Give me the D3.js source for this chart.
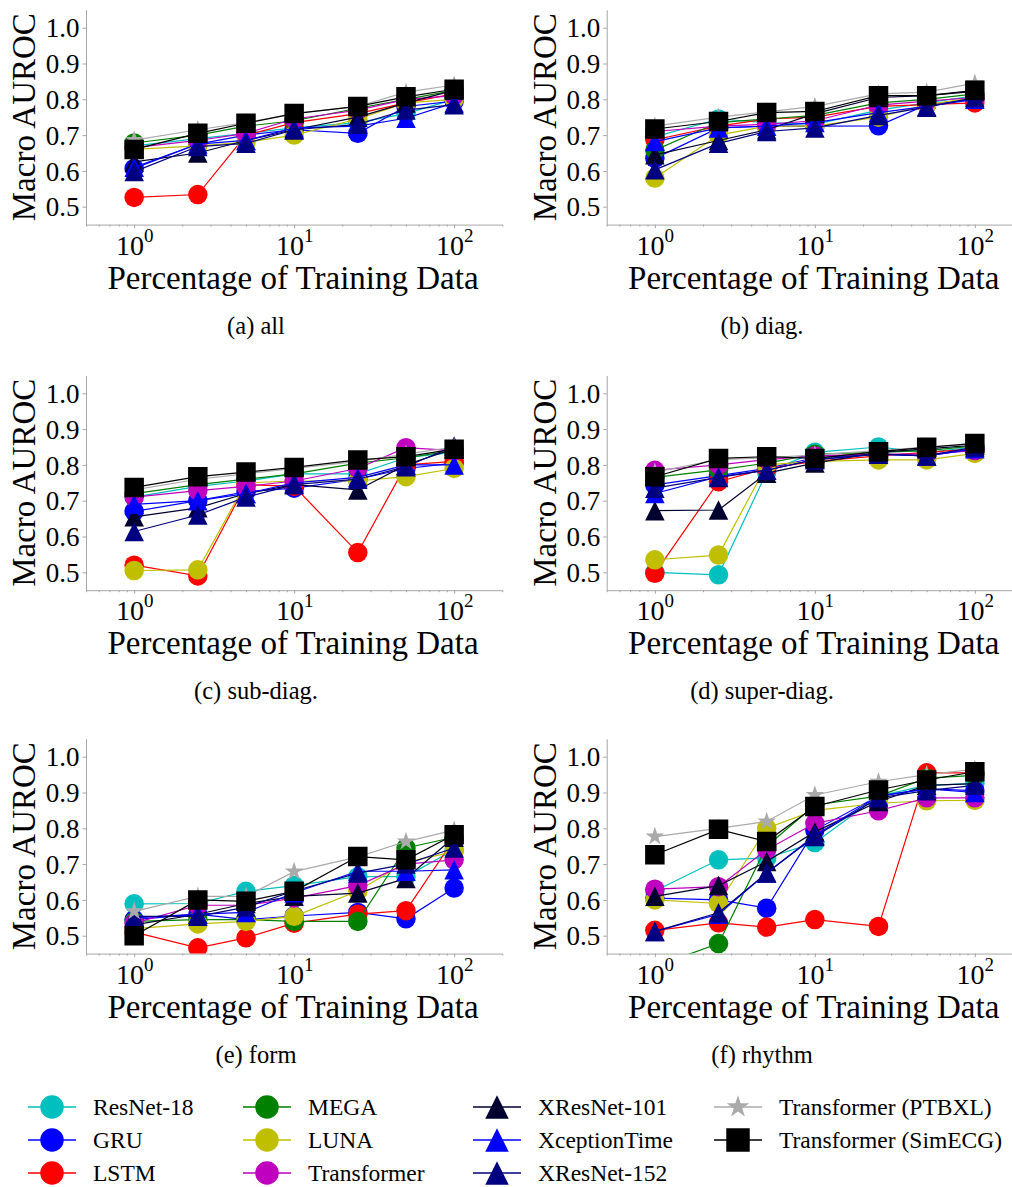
<!DOCTYPE html>
<html>
<head>
<meta charset="utf-8">
<script src="https://cdn.jsdelivr.net/npm/d3@7"></script>
<style>
  body { margin: 0; background: #fff; }
  svg { display: block; font-family: "Liberation Serif", "DejaVu Serif", serif; }
</style>
</head>
<body>
<div id="chart"></div>
<script>
// x values (percentage of training data)
const percentages = [1, 2.5, 5, 10, 25, 50, 100];

const models = ["ResNet-18", "GRU", "LSTM", "MEGA", "LUNA", "Transformer",
  "XResNet-101", "XceptionTime", "XResNet-152", "Transformer (PTBXL)", "Transformer (SimECG)"];

const yTicks = [0.5, 0.6, 0.7, 0.8, 0.9, 1.0];
const xMajorTicks = [1, 10, 100];

const subCaptions = ["(a) all", "(b) diag.", "(c) sub-diag.", "(d) super-diag.", "(e) form", "(f) rhythm"];

// rows follow the order of `models`
const scoresAll = [
  [0.670, 0.690, 0.705, 0.720, 0.735, 0.760, 0.800],
  [0.607, 0.675, 0.700, 0.715, 0.705, 0.780, 0.795],
  [0.526, 0.534, 0.700, 0.735, 0.760, 0.790, 0.815],
  [0.678, 0.700, 0.725, 0.740, 0.775, 0.800, 0.825],
  [0.660, 0.670, 0.680, 0.700, 0.745, 0.790, 0.800],
  [0.665, 0.685, 0.705, 0.745, 0.770, 0.800, 0.810],
  [0.625, 0.650, 0.685, 0.715, 0.750, 0.790, 0.825],
  [0.610, 0.675, 0.685, 0.720, 0.725, 0.747, 0.790],
  [0.598, 0.668, 0.677, 0.715, 0.730, 0.770, 0.785],
  [0.686, 0.715, 0.735, 0.760, 0.780, 0.820, 0.840],
  [0.660, 0.705, 0.733, 0.760, 0.780, 0.807, 0.828]
];

const scoresDiag = [
  [0.695, 0.745, 0.735, 0.730, 0.770, 0.790, 0.810],
  [0.635, 0.720, 0.725, 0.725, 0.726, 0.785, 0.800],
  [0.687, 0.725, 0.745, 0.750, 0.780, 0.785, 0.790],
  [0.658, 0.735, 0.745, 0.755, 0.790, 0.800, 0.815],
  [0.580, 0.700, 0.725, 0.725, 0.750, 0.785, 0.805],
  [0.710, 0.725, 0.730, 0.740, 0.784, 0.795, 0.805],
  [0.645, 0.685, 0.715, 0.760, 0.805, 0.810, 0.822],
  [0.682, 0.720, 0.725, 0.735, 0.763, 0.780, 0.800],
  [0.603, 0.677, 0.710, 0.720, 0.755, 0.778, 0.805],
  [0.725, 0.750, 0.765, 0.780, 0.815, 0.820, 0.845],
  [0.717, 0.738, 0.763, 0.766, 0.810, 0.810, 0.825]
];

const scoresSubDiag = [
  [0.710, 0.740, 0.755, 0.775, 0.775, 0.820, 0.835],
  [0.670, 0.700, 0.725, 0.735, 0.760, 0.790, 0.805],
  [0.520, 0.490, 0.745, 0.740, 0.555, 0.800, 0.810],
  [0.720, 0.745, 0.760, 0.775, 0.805, 0.820, 0.840],
  [0.505, 0.507, 0.750, 0.755, 0.755, 0.767, 0.790],
  [0.710, 0.728, 0.740, 0.755, 0.790, 0.848, 0.840],
  [0.655, 0.680, 0.720, 0.745, 0.730, 0.800, 0.845],
  [0.690, 0.700, 0.720, 0.750, 0.765, 0.800, 0.800],
  [0.614, 0.660, 0.710, 0.745, 0.760, 0.795, 0.853],
  [0.730, 0.760, 0.775, 0.790, 0.810, 0.830, 0.850],
  [0.737, 0.767, 0.780, 0.793, 0.814, 0.823, 0.844]
];

const scoresSuperDiag = [
  [0.500, 0.493, 0.780, 0.835, 0.850, 0.835, 0.850],
  [0.744, 0.770, 0.790, 0.820, 0.830, 0.825, 0.845],
  [0.497, 0.753, 0.790, 0.810, 0.825, 0.835, 0.845],
  [0.765, 0.786, 0.805, 0.830, 0.835, 0.840, 0.853],
  [0.535, 0.548, 0.800, 0.810, 0.814, 0.814, 0.832],
  [0.785, 0.800, 0.815, 0.825, 0.830, 0.830, 0.840],
  [0.672, 0.674, 0.777, 0.805, 0.835, 0.845, 0.855],
  [0.720, 0.767, 0.785, 0.815, 0.830, 0.825, 0.845],
  [0.735, 0.765, 0.785, 0.815, 0.830, 0.825, 0.850],
  [0.780, 0.815, 0.820, 0.828, 0.840, 0.850, 0.857],
  [0.767, 0.818, 0.823, 0.818, 0.837, 0.849, 0.860]
];

const scoresForm = [
  [0.589, 0.590, 0.624, 0.640, 0.665, 0.665, 0.740],
  [0.545, 0.560, 0.545, 0.555, 0.565, 0.547, 0.633],
  [0.510, 0.466, 0.494, 0.535, 0.560, 0.570, 0.770],
  [0.540, 0.545, 0.545, 0.540, 0.540, 0.745, 0.775],
  [0.520, 0.533, 0.540, 0.554, 0.625, 0.705, 0.735],
  [0.535, 0.585, 0.585, 0.605, 0.640, 0.700, 0.712],
  [0.530, 0.560, 0.590, 0.610, 0.619, 0.660, 0.775],
  [0.550, 0.560, 0.565, 0.620, 0.680, 0.680, 0.684],
  [0.554, 0.554, 0.580, 0.625, 0.675, 0.700, 0.745],
  [0.568, 0.610, 0.610, 0.679, 0.720, 0.763, 0.795],
  [0.500, 0.600, 0.596, 0.624, 0.721, 0.712, 0.782]
];

const scoresRhythm = [
  [0.625, 0.712, 0.717, 0.760, 0.890, 0.920, 0.925],
  [0.605, 0.600, 0.577, 0.795, 0.890, 0.910, 0.905],
  [0.515, 0.536, 0.524, 0.545, 0.526, 0.955, 0.955],
  [0.414, 0.478, 0.750, 0.865, 0.890, 0.940, 0.948],
  [0.600, 0.590, 0.800, 0.850, 0.870, 0.877, 0.878],
  [0.630, 0.637, 0.740, 0.814, 0.849, 0.885, 0.885],
  [0.610, 0.640, 0.707, 0.790, 0.875, 0.920, 0.925],
  [0.512, 0.560, 0.675, 0.780, 0.890, 0.910, 0.900],
  [0.512, 0.564, 0.675, 0.777, 0.885, 0.905, 0.920],
  [0.777, 0.800, 0.819, 0.893, 0.930, 0.950, 0.965],
  [0.726, 0.797, 0.763, 0.861, 0.907, 0.935, 0.958]
];

const panels = [scoresAll, scoresDiag, scoresSubDiag, scoresSuperDiag, scoresForm, scoresRhythm];

// styles
const colors = ["#00bfbf", "#0000ff", "#ff0000", "#008000", "#bfbf00", "#bf00bf",
  "#00002e", "#0000ff", "#000080", "#aaaaaa", "#000000"];
const shapes = ["circle", "circle", "circle", "circle", "circle", "circle",
  "triangle", "triangle", "triangle", "star", "square"];

const W = 1012, H = 1187;
const colX = [86, 606.7];
const rowY = [9.8, 375.4, 738.8];
const plotW = 416.3, plotH = 214.8;
const spineColor = "#a6a6a6";

// matplotlib-like marker shapes, size = (marker width)^2
const mplTriangle = {
  draw(ctx, size) {
    const h = Math.sqrt(size) / 2;
    ctx.moveTo(0, -h); ctx.lineTo(h, h); ctx.lineTo(-h, h); ctx.closePath();
  }
};
function markerPath(shape, ms) {
  if (shape === "circle") return d3.symbol(d3.symbolCircle, Math.PI * ms * ms / 4)();
  if (shape === "square") return d3.symbol(d3.symbolSquare, ms * ms)();
  if (shape === "star") return d3.symbol(d3.symbolStar, (ms * ms / 4) / 0.8908130915292852)();
  return d3.symbol(mplTriangle, ms * ms)();
}

const svg = d3.select("#chart").append("svg")
  .attr("width", W).attr("height", H)
  .attr("viewBox", `0 0 ${W} ${H}`);

const x = d3.scaleLog().domain([0.5, 200]).range([0, plotW]);
const y = d3.scaleLinear().domain([0.45, 1.05]).range([plotH, 0]);

const line = d3.line()
  .x((d, i) => x(percentages[i]))
  .y(d => y(d));

panels.forEach((scores, p) => {
  const col = p % 2, row = Math.floor(p / 2);
  const g = svg.append("g").attr("transform", `translate(${colX[col]},${rowY[row]})`);

  g.append("clipPath").attr("id", "clip" + p)
    .append("rect").attr("width", plotW).attr("height", plotH);

  // minor x ticks
  const minor = x.ticks().filter(v => !xMajorTicks.includes(v));
  g.append("g").attr("transform", `translate(0,${plotH})`)
    .call(d3.axisBottom(x).tickValues(minor).tickSize(2).tickSizeOuter(0).tickFormat(""))
    .call(a => a.select(".domain").remove())
    .call(a => a.selectAll("line").attr("stroke", spineColor));

  // major x ticks
  const xAxis = g.append("g").attr("transform", `translate(0,${plotH})`)
    .call(d3.axisBottom(x).tickValues(xMajorTicks).tickSize(3.5).tickSizeOuter(0));
  xAxis.select(".domain").attr("stroke", spineColor);
  xAxis.selectAll("line").attr("stroke", spineColor);
  xAxis.selectAll(".tick text").each(function(d) {
    const t = d3.select(this);
    t.text("10").attr("y", 30).attr("dy", null)
      .attr("font-size", 28).attr("fill", "#000")
      .attr("font-family", "Liberation Serif, serif");
    t.append("tspan").attr("dy", -13).attr("font-size", 19)
      .text(Math.round(Math.log10(d)));
  });

  // y axis
  const yAxis = g.append("g")
    .call(d3.axisLeft(y).tickValues(yTicks).tickSize(3.5).tickSizeOuter(0)
      .tickPadding(3).tickFormat(d3.format(".1f")));
  yAxis.select(".domain").attr("stroke", spineColor);
  yAxis.selectAll("line").attr("stroke", spineColor);
  yAxis.selectAll(".tick text").attr("font-size", 27).attr("fill", "#000")
    .attr("font-family", "Liberation Serif, serif").attr("dy", "0.34em");

  // axis titles
  g.append("text")
    .attr("transform", `translate(-51,${plotH / 2}) rotate(-90)`)
    .attr("text-anchor", "middle").attr("font-size", 33)
    .text("Macro AUROC");
  g.append("text")
    .attr("x", 207).attr("y", plotH + 64)
    .attr("text-anchor", "middle").attr("font-size", 33)
    .text("Percentage of Training Data");

  // sub caption centred on the panel
  svg.append("text")
    .attr("x", col === 0 ? 256 : 762)
    .attr("y", rowY[row] + plotH + 109)
    .attr("text-anchor", "middle").attr("font-size", 24.5)
    .text(subCaptions[p]);

  // series
  const data = g.append("g").attr("clip-path", `url(#clip${p})`);
  scores.forEach((vals, m) => {
    data.append("path")
      .attr("d", line(vals))
      .attr("fill", "none")
      .attr("stroke", colors[m])
      .attr("stroke-width", 1.2);
    data.selectAll(null)
      .data(vals)
      .enter().append("path")
      .attr("transform", (d, i) => `translate(${x(percentages[i])},${y(d)})`)
      .attr("d", markerPath(shapes[m], 19.5))
      .attr("fill", colors[m]);
  });
});

// legend
const legendColX = [52, 267, 497, 738];
const legendRowY = [1107, 1140, 1173];
const legend = svg.append("g");
models.forEach((name, m) => {
  const lx = legendColX[Math.floor(m / 3)], ly = legendRowY[m % 3];
  const item = legend.append("g").attr("transform", `translate(${lx},${ly})`);
  item.append("line").attr("x1", -24).attr("x2", 24)
    .attr("stroke", colors[m]).attr("stroke-width", 1.4);
  item.append("path").attr("d", markerPath(shapes[m], 23.5)).attr("fill", colors[m]);
  item.append("text").attr("x", 41).attr("dy", "0.35em")
    .attr("font-size", 23.5).text(name);
});
</script>
</body>
</html>
